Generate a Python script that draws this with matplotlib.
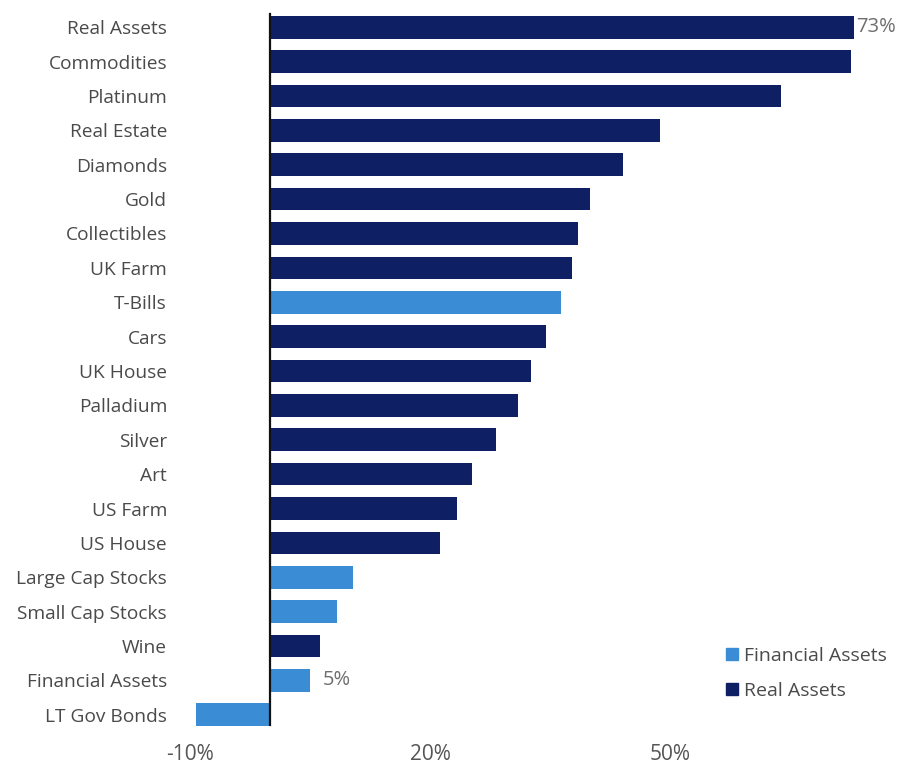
import matplotlib
matplotlib.use("Agg")
import matplotlib.pyplot as plt
from matplotlib.patches import Patch

# Returns by asset class (%), top to bottom
categories = ["Real Assets", "Commodities", "Platinum", "Real Estate", "Diamonds",
              "Gold", "Collectibles", "UK Farm", "T-Bills", "Cars", "UK House",
              "Palladium", "Silver", "Art", "US Farm", "US House",
              "Large Cap Stocks", "Small Cap Stocks", "Wine", "Financial Assets",
              "LT Gov Bonds"]
values = [73, 72.6, 63.9, 48.8, 44.1, 40.0, 38.5, 37.8, 36.4, 34.5, 32.6,
          31.0, 28.3, 25.3, 23.4, 21.3, 10.4, 8.4, 6.3, 5, -9.3]
groups = ["Real", "Real", "Real", "Real", "Real", "Real", "Real", "Real",
          "Financial", "Real", "Real", "Real", "Real", "Real", "Real", "Real",
          "Financial", "Financial", "Real", "Financial", "Financial"]
value_labels = {"Real Assets": "73%", "Financial Assets": "5%"}
xticks = [-10, 20, 50]
xtick_labels = ["-10%", "20%", "50%"]

colors = {"Real": "#0f1f63", "Financial": "#3a8dd4"}
text_color = "#4a4a4a"

plt.rcParams["font.family"] = ["Open Sans", "DejaVu Sans"]

fig = plt.figure(figsize=(9.04, 7.69), dpi=100)
ax = fig.add_axes([174 / 904, 1 - 732 / 769, (894 - 174) / 904, (732 - 10) / 769])

ypos = list(range(len(categories)))
ax.barh(ypos, values, height=0.66, color=[colors[g] for g in groups])
ax.axvline(0, color="#111111", lw=1.6, ymin=0.01, ymax=0.995)

ax.set_xlim(-12, 78)
ax.set_ylim(len(categories) - 0.5, -0.5)

ax.set_yticks(ypos)
ax.set_yticklabels(categories, fontsize=13.8, color=text_color)
ax.set_xticks(xticks)
ax.set_xticklabels(xtick_labels, fontsize=15, color="#555555")
ax.tick_params(axis="y", length=0, pad=5)
ax.tick_params(axis="x", length=0, pad=9)
for s in ax.spines.values():
    s.set_visible(False)

for i, (c, v) in enumerate(zip(categories, values)):
    if c in value_labels:
        ax.text(v + (0.3 if c == "Real Assets" else 1.6), i, value_labels[c],
                va="center", ha="left", fontsize=14.5, color="#6e6e6e")

handles = [Patch(color=colors["Financial"], label="Financial Assets"),
           Patch(color=colors["Real"], label="Real Assets")]
ax.legend(handles=handles, loc="lower right", bbox_to_anchor=(1.015, 0.02),
          frameon=False, fontsize=14, handlelength=0.6, handleheight=0.6,
          handletextpad=0.35, labelspacing=0.9, labelcolor=text_color)

fig.savefig("out.png", dpi=100, facecolor="white")
